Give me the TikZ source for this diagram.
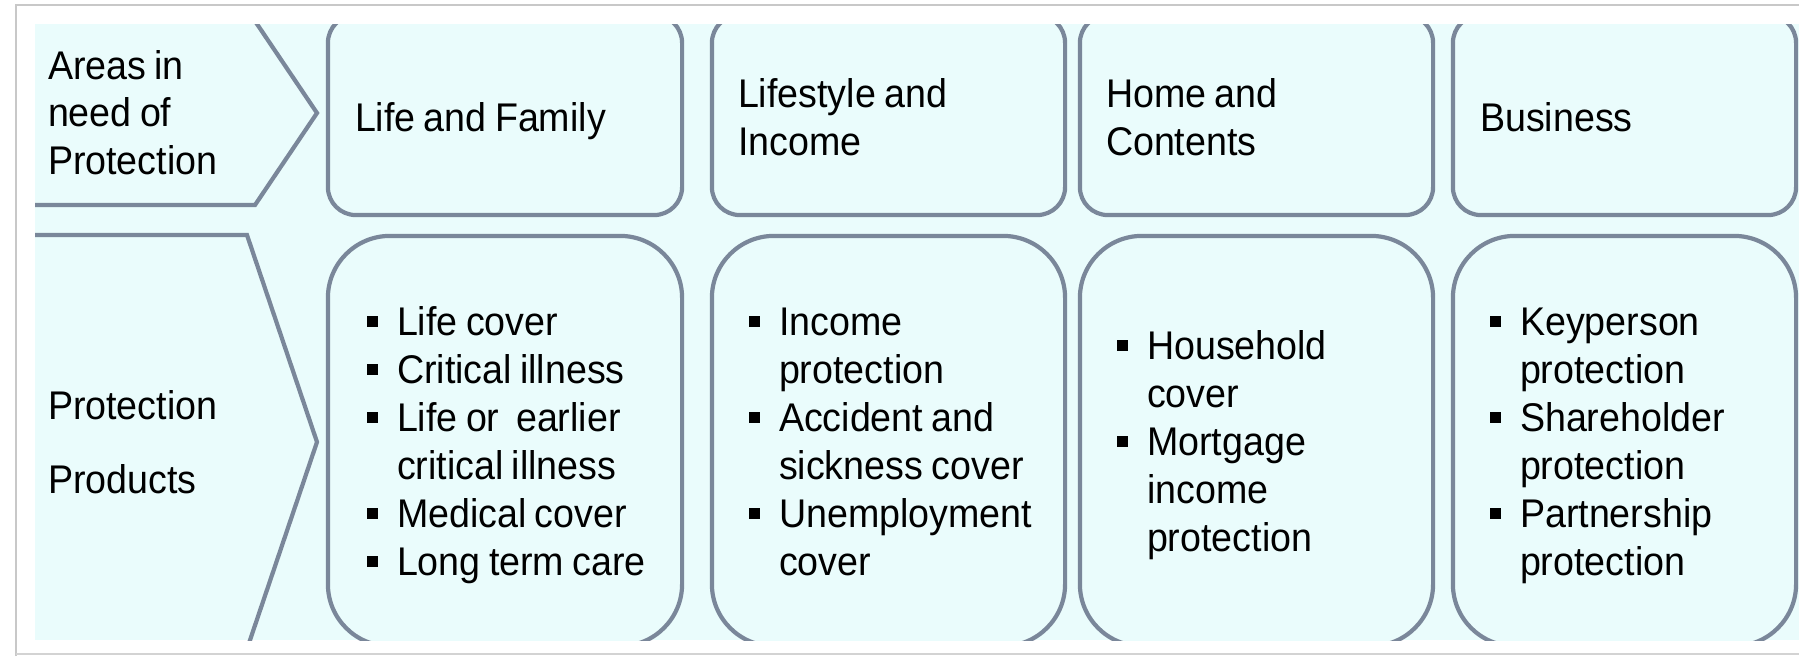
\documentclass[tikz,border=0pt]{standalone}
\usepackage{fontspec}
\setmainfont{Liberation Sans}[FakeStretch=0.94,WordSpace=0.8]
\definecolor{bgc}{RGB}{234,252,252}
\definecolor{lnc}{RGB}{122,135,154}
\definecolor{frc}{RGB}{200,200,200}
\newcommand\bulmark{\makebox[0.305cm][l]{\raisebox{0.085cm}{\rule{0.11cm}{0.11cm}}}}
\newcommand\bitem[1]{\hbox{\bulmark #1}}
\newcommand\citem[1]{\hbox{\kern0.305cm #1}}
\newcommand\pitem[1]{\hbox{#1}}
\newcommand\txtlines[2][0.48cm]{\vtop{\baselineskip=#1\relax #2}}
\begin{document}
\begin{tikzpicture}[x=0.01cm,y=-0.01cm,
  font=\fontsize{11.38}{13.66}\selectfont,
  lbl/.style={anchor=base west,inner sep=0pt,outer sep=0pt,text=black},
  boxbase/.style={draw=lnc,line width=0.042cm,fill=bgc,inner sep=0pt,rectangle},
  topbox/.style={boxbase,rounded corners=0.28cm,minimum height=2cm},
  lowbox/.style={boxbase,rounded corners=0.62cm,minimum height=4.10cm},
  chev/.style={draw=lnc,line width=0.042cm,line join=miter}]
\useasboundingbox (0,0) rectangle (1799,656);
\fill[white] (0,0) rectangle (1799,656);
\draw[frc,line width=0.025cm] (16,656) -- (16,5) -- (1799,5);
\draw[frc!80!white,line width=0.02cm] (16,654) -- (1799,654);
\fill[bgc] (35,24) rectangle (1799,640);
\begin{scope}
\clip (35,24) rectangle (1799,640);
\draw[chev] (35,21) -- (255,21) -- (317,113) -- (255,205) -- (35,205);
\draw[chev] (35,235) -- (247,235) -- (317,442) -- (247,649) -- (35,649);
\node[topbox,minimum width=3.54cm] (t1) at (505,115) {};
\node[topbox,minimum width=3.53cm] (t2) at (888.5,115) {};
\node[topbox,minimum width=3.53cm] (t3) at (1256.5,115) {};
\node[topbox,minimum width=3.43cm] (t4) at (1624.5,115) {};
\node[lowbox,minimum width=3.54cm] (b1) at (505,441) {};
\node[lowbox,minimum width=3.53cm] (b2) at (888.5,441) {};
\node[lowbox,minimum width=3.53cm] (b3) at (1256.5,441) {};
\node[lowbox,minimum width=3.43cm] (b4) at (1624.5,441) {};
\end{scope}
\node[lbl] (areas) at (48,79) {\txtlines[0.475cm]{\pitem{Areas in}\pitem{need of}\pitem{Protection}}};
\node[lbl] (prod) at (48,419) {\txtlines[0.74cm]{\pitem{Protection}\pitem{Products}}};
\node[lbl] (l1) at (355,131) {Life and Family};
\node[lbl] (l2) at (738,107) {\txtlines{\pitem{Lifestyle and}\pitem{Income}}};
\node[lbl] (l3) at (1106,107) {\txtlines{\pitem{Home and}\pitem{Contents}}};
\node[lbl] (l4) at (1480,131) {Business};
\node[lbl] (p1) at (366.5,335) {\txtlines{\bitem{Life cover}\bitem{Critical illness}\bitem{Life or\ \ earlier}\citem{critical illness}\bitem{Medical cover}\bitem{Long term care}}};
\node[lbl] (p2) at (748.5,335) {\txtlines{\bitem{Income}\citem{protection}\bitem{Accident and}\citem{sickness cover}\bitem{Unemployment}\citem{cover}}};
\node[lbl] (p3) at (1116.5,359) {\txtlines{\bitem{Household}\citem{cover}\bitem{Mortgage}\citem{income}\citem{protection}}};
\node[lbl] (p4) at (1489.5,335) {\txtlines{\bitem{Keyperson}\citem{protection}\bitem{Shareholder}\citem{protection}\bitem{Partnership}\citem{protection}}};
\end{tikzpicture}
\end{document}
